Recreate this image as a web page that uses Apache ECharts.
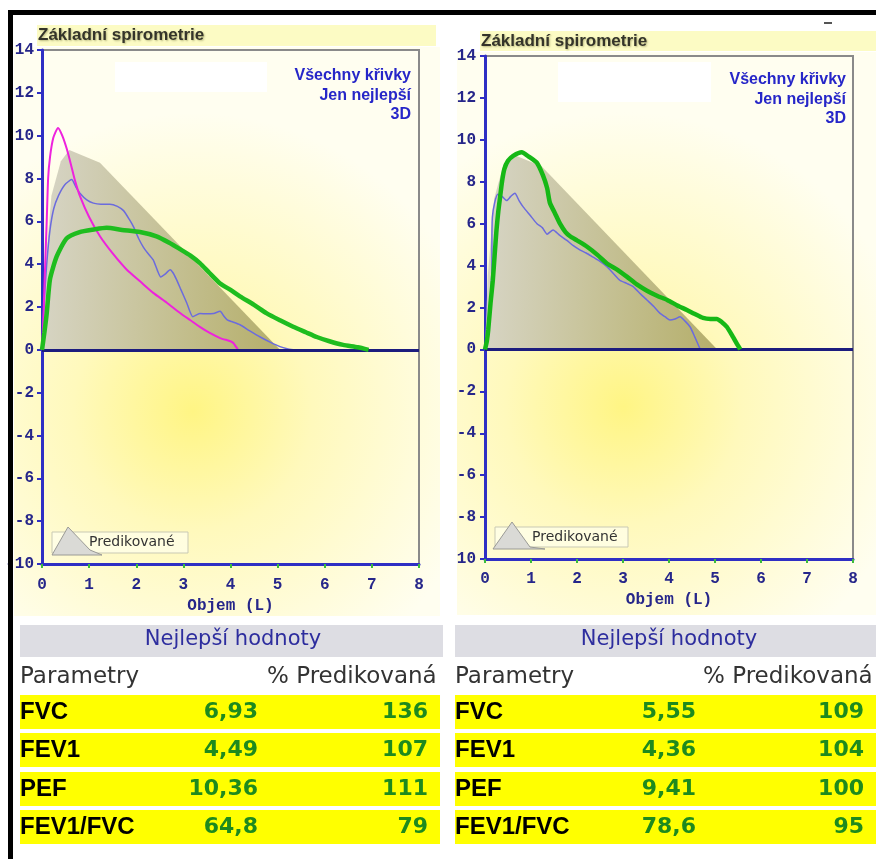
<!DOCTYPE html>
<html>
<head>
<meta charset="utf-8">
<script src="https://cdn.jsdelivr.net/npm/echarts@6/dist/echarts.min.js"></script>
<style>
  html, body { margin: 0; padding: 0; background: #ffffff; }
  #main { width: 876px; height: 859px; }
</style>
</head>
<body>
<div id="main"></div>
<script>
// Flow–volume loops: volume (L) on x, flow (L/s) on y.
const predicted = [[0, 0], [0.06, 3.5], [0.2, 7.2], [0.4, 8.8], [0.58, 9.33], [1.23, 8.74], [5.05, 0]];

const leftBlue = [[0, 0], [0.04, 2], [0.1, 4], [0.17, 5.6], [0.25, 6.6], [0.35, 7.2], [0.48, 7.7], [0.63, 7.95],
  [0.72, 7.6], [0.81, 7.3], [0.95, 7.0], [1.09, 6.85], [1.25, 6.8], [1.44, 6.8], [1.6, 6.7], [1.73, 6.5],
  [1.85, 6.1], [1.94, 5.75], [2.05, 5.2], [2.15, 4.8], [2.25, 4.5], [2.36, 4.2], [2.45, 3.7], [2.52, 3.4],
  [2.62, 3.55], [2.72, 3.74], [2.78, 3.6], [2.85, 3.3], [2.95, 2.8], [3.07, 2.2], [3.2, 1.55], [3.35, 1.7],
  [3.5, 1.68], [3.64, 1.7], [3.78, 1.8], [3.85, 1.6], [3.93, 1.4], [4.05, 1.3], [4.2, 1.17], [4.4, 0.9],
  [4.63, 0.6], [4.85, 0.35], [5.05, 0.15], [5.2, 0.05], [5.33, 0]];

const leftMagenta = [[0, 0], [0.03, 1.5], [0.06, 3.5], [0.1, 6], [0.13, 8], [0.17, 9], [0.24, 9.9], [0.34, 10.36],
  [0.43, 10.0], [0.53, 9.35], [0.62, 8.6], [0.7, 7.9], [0.81, 7.15], [1.0, 6.2], [1.23, 5.3], [1.5, 4.5],
  [1.8, 3.74], [2.08, 3.2], [2.36, 2.66], [2.65, 2.2], [2.93, 1.72], [3.15, 1.38], [3.35, 1.07], [3.55, 0.8],
  [3.78, 0.55], [4.0, 0.4], [4.06, 0.32], [4.16, 0]];

const leftGreen = [[0, 0], [0.05, 0.8], [0.1, 1.7], [0.17, 3.3], [0.31, 4.35], [0.52, 5.2], [0.8, 5.5], [1.1, 5.62],
  [1.37, 5.7], [1.7, 5.6], [2.08, 5.5], [2.43, 5.3], [2.7, 5.0], [2.93, 4.7], [3.15, 4.4], [3.35, 4.05],
  [3.55, 3.6], [3.78, 3.1], [4.0, 2.8], [4.2, 2.5], [4.5, 2.1], [4.77, 1.7], [5.05, 1.38], [5.33, 1.08],
  [5.6, 0.82], [5.83, 0.6], [6.1, 0.4], [6.39, 0.23], [6.7, 0.12], [6.93, 0]];

const rightBlue = [[0, 0], [0.05, 0.8], [0.1, 1.7], [0.13, 2.8], [0.15, 3.8], [0.15, 5], [0.16, 6.3], [0.21, 7.0],
  [0.28, 7.4], [0.37, 7.3], [0.47, 7.1], [0.56, 7.3], [0.65, 7.45], [0.74, 7.1], [0.83, 6.8], [0.98, 6.4],
  [1.13, 6.0], [1.25, 5.8], [1.35, 5.5], [1.48, 5.7], [1.62, 5.45], [1.78, 5.2], [1.92, 4.95], [2.07, 4.74],
  [2.2, 4.6], [2.35, 4.4], [2.5, 4.2], [2.65, 3.95], [2.8, 3.6], [2.93, 3.3], [3.08, 3.15], [3.22, 3.0],
  [3.38, 2.65], [3.52, 2.36], [3.67, 2.05], [3.8, 1.73], [3.92, 1.55], [4.02, 1.4], [4.13, 1.45], [4.24, 1.56],
  [4.35, 1.35], [4.46, 1.07], [4.56, 0.6], [4.64, 0.2], [4.68, 0]];

const rightGreen = [[0, 0], [0.04, 0.4], [0.07, 0.93], [0.12, 2.2], [0.17, 3.3], [0.21, 4.5], [0.25, 5.7], [0.29, 6.6],
  [0.33, 7.3], [0.37, 8.0], [0.42, 8.6], [0.5, 9.0], [0.62, 9.25], [0.8, 9.41], [0.95, 9.2], [1.13, 8.9],
  [1.26, 8.3], [1.35, 7.7], [1.41, 7.0], [1.52, 6.5], [1.63, 6.0], [1.75, 5.6], [1.85, 5.4], [2.0, 5.2],
  [2.22, 4.9], [2.45, 4.5], [2.65, 4.1], [2.88, 3.8], [3.09, 3.46], [3.3, 3.1], [3.52, 2.8], [3.75, 2.55],
  [3.96, 2.36], [4.18, 2.1], [4.39, 1.88], [4.55, 1.7], [4.74, 1.5], [4.9, 1.45], [5.04, 1.45], [5.15, 1.3],
  [5.26, 1.07], [5.39, 0.6], [5.48, 0.25], [5.55, 0]];

// Best values table
const paramNames = ['FVC', 'FEV1', 'PEF', 'FEV1/FVC'];
const leftBest = [6.93, 4.49, 10.36, 64.8];
const leftPct = [136, 107, 111, 79];
const rightBest = [5.55, 4.36, 9.41, 78.6];
const rightPct = [109, 104, 100, 95];

// Texts
const chartTitle = 'Základní spirometrie';
const menuItems = ['Všechny křivky', 'Jen nejlepší', '3D'];
const legendName = 'Predikované';
const xAxisName = 'Objem (L)';
const tableTitle = 'Nejlepší hodnoty';
const headParam = 'Parametry';
const headPct = '% Predikovaná';

const chart = echarts.init(document.getElementById('main'), null, { renderer: 'canvas' });

const axisBlue = '#2f2fc4';
const labelNavy = '#26268a';
const monoFont = '"Liberation Mono", "DejaVu Sans Mono", monospace';

function xAxisFor(gridIndex, labelMargin, nameGap) {
  return {
    gridIndex, type: 'value', min: 0, max: 8, interval: 1,
    axisLine: { show: true, onZero: false, lineStyle: { color: axisBlue, width: 3 } },
    axisTick: { show: true, length: 4, lineStyle: { color: '#3cbc3c', width: 2 } },
    axisLabel: { color: labelNavy, fontFamily: monoFont, fontWeight: 'bold', fontSize: 16, margin: labelMargin },
    splitLine: { show: false },
    name: xAxisName, nameLocation: 'middle', nameGap,
    nameTextStyle: { color: labelNavy, fontFamily: monoFont, fontWeight: 'bold', fontSize: 16 }
  };
}
function yAxisFor(gridIndex, labelMargin) {
  return {
    gridIndex, type: 'value', min: -10, max: 14, interval: 2,
    axisLine: { show: true, onZero: false, lineStyle: { color: axisBlue, width: 3 } },
    axisTick: { show: true, length: 5, lineStyle: { color: axisBlue, width: 2 } },
    axisLabel: { color: labelNavy, fontFamily: monoFont, fontWeight: 'bold', fontSize: 16, margin: labelMargin,
      showMinLabel: true, showMaxLabel: true },
    splitLine: { show: false }
  };
}

function predictedSeries(idx) {
  return {
    type: 'line', xAxisIndex: idx, yAxisIndex: idx, data: predicted, showSymbol: false, z: 1,
    lineStyle: { width: 0 },
    areaStyle: {
      opacity: 0.92,
      color: new echarts.graphic.LinearGradient(0, 0, 1, 0, [
        { offset: 0, color: '#d3d1c3' },
        { offset: 0.45, color: '#c3bf98' },
        { offset: 1, color: '#aea864' }
      ])
    }
  };
}
function curve(idx, data, color, width, z) {
  return {
    type: 'line', xAxisIndex: idx, yAxisIndex: idx, data, showSymbol: false, z,
    smooth: 0.2, lineStyle: { color, width }
  };
}
function zeroLine() {
  return {
    silent: true, symbol: 'none', label: { show: false },
    lineStyle: { color: '#1c1c7e', width: 3, type: 'solid' },
    data: [{ yAxis: 0 }]
  };
}

const leftGreenSeries = curve(0, leftGreen, '#1fbd1f', 4.5, 5);
leftGreenSeries.markLine = zeroLine();
const rightGreenSeries = curve(1, rightGreen, '#16b816', 4.5, 5);
rightGreenSeries.markLine = zeroLine();

// Decorations drawn around the two plots
function bgRect(x, y, w, h, cx, cy) {
  return {
    type: 'rect', z: -1, silent: true,
    shape: { x, y, width: w, height: h },
    style: {
      fill: new echarts.graphic.RadialGradient(cx, cy, 0.7, [
        { offset: 0, color: '#fff584' },
        { offset: 0.4, color: '#fff9bc' },
        { offset: 1, color: '#fffef0' }
      ])
    }
  };
}
function txt(text, x, y, font, fill, align, extra) {
  return Object.assign({
    type: 'text', z: 60, silent: true,
    style: Object.assign({
      text, x, y, font, fill,
      align: align, textAlign: align,
      verticalAlign: 'middle', textVerticalAlign: 'middle'
    }, extra || {})
  });
}
function rect(x, y, w, h, fill, z, stroke) {
  return {
    type: 'rect', z: z, silent: true, shape: { x, y, width: w, height: h },
    style: stroke ? { fill, stroke, lineWidth: 1 } : { fill }
  };
}
function chartDecor(o) {
  const els = [];
  els.push(rect(o.bandX, o.bandY, o.bandW, o.bandH, '#fcfbc4', 1));
  els.push(txt(chartTitle, o.bandX + 1, o.bandY + o.bandH / 2, 'bold 17px "Liberation Sans", Arial, sans-serif',
    '#34342a', 'left', { textShadowColor: 'rgba(60,60,0,0.35)', textShadowBlur: 2, textShadowOffsetX: 1, textShadowOffsetY: 1 }));
  els.push(rect(o.whiteX, o.whiteY, o.whiteW, o.whiteH, '#ffffff', 40));
  menuItems.forEach((m, i) => {
    els.push(txt(m, o.menuX, o.menuY[i], 'bold 16px "Liberation Sans", Arial, sans-serif', '#2626c8', 'right'));
  });
  // legend: box, triangle glyph, caption
  els.push(rect(o.legX, o.legY, o.legW, o.legH, 'rgba(255,255,236,0.7)', 50, '#c9c9b4'));
  els.push({
    type: 'polygon', z: 55, silent: true,
    shape: { points: o.triPts },
    style: { fill: '#dadad6', stroke: '#9a9a96', lineWidth: 1 }
  });
  els.push(txt(legendName, o.legTextX, o.legY + o.legH / 2, '14px "DejaVu Sans", sans-serif', '#333333', 'left'));
  return els;
}
function fmt(v) { return String(v).replace('.', ','); }
function tableDecor(o, best, pct) {
  const els = [];
  els.push(rect(o.x0, 625, o.headW, 32, '#dddde3', 1));
  els.push(txt(tableTitle, o.titleX, 640, '21px "DejaVu Sans", sans-serif', '#2d2d9e', 'center'));
  els.push(txt(headParam, o.x0, 677, '23px "DejaVu Sans", sans-serif', '#333333', 'left'));
  els.push(txt(headPct, o.pctHeadX, 677, '23px "DejaVu Sans", sans-serif', '#333333', 'left'));
  const tops = [695, 733, 772, 810];
  paramNames.forEach((p, i) => {
    els.push(rect(o.x0, tops[i], o.rowW, 34, '#ffff00', 1));
    const cy = tops[i] + 17;
    els.push(txt(p, o.x0, cy, 'bold 24px "Liberation Sans", Arial, sans-serif', '#000000', 'left'));
    els.push(txt(fmt(best[i]), o.valRight, cy, 'bold 22px "DejaVu Sans", Verdana, sans-serif', '#1e8a1e', 'right'));
    els.push(txt(String(pct[i]), o.pctRight, cy, 'bold 22px "DejaVu Sans", Verdana, sans-serif', '#1e8a1e', 'right'));
  });
  return els;
}

const graphicEls = [].concat(
  [bgRect(14, 47, 426, 569, 0.42, 0.64), bgRect(455, 52, 421, 563, 0.4, 0.63)],
  chartDecor({
    bandX: 37, bandY: 25, bandW: 399, bandH: 21,
    whiteX: 115, whiteY: 62, whiteW: 152, whiteH: 30,
    menuX: 411, menuY: [76, 96, 115],
    legX: 52, legY: 532, legW: 136, legH: 21, legTextX: 89,
    triPts: [[52, 555], [68, 527], [90, 550], [102, 555]]
  }),
  chartDecor({
    bandX: 480, bandY: 31, bandW: 396, bandH: 20,
    whiteX: 558, whiteY: 62, whiteW: 153, whiteH: 40,
    menuX: 846, menuY: [80, 100, 119],
    legX: 495, legY: 527, legW: 133, legH: 20, legTextX: 532,
    triPts: [[493, 549], [512, 522], [530, 547], [545, 549]]
  }),
  tableDecor({ x0: 20, headW: 423, rowW: 420, titleX: 233, pctHeadX: 267, valRight: 258, pctRight: 428 }, leftBest, leftPct),
  tableDecor({ x0: 455, headW: 421, rowW: 421, titleX: 669, pctHeadX: 703, valRight: 696, pctRight: 864 }, rightBest, rightPct),
  [
    rect(441, 47, 16, 572, '#ffffff', 150),   // gap between the two panels
    rect(824, 22, 8, 2, '#555555', 150),
    rect(8, 10, 868, 5, '#000000', 200),      // outer frame
    rect(8, 10, 5, 849, '#000000', 200)
  ]
);

const option = {
  backgroundColor: '#ffffff',
  animation: false,
  grid: [
    { left: 42, top: 50, width: 377, height: 514, show: true, borderColor: '#8a8a8a', borderWidth: 2, backgroundColor: 'transparent' },
    { left: 485, top: 56, width: 368, height: 503, show: true, borderColor: '#8a8a8a', borderWidth: 2, backgroundColor: 'transparent' }
  ],
  xAxis: [xAxisFor(0, 13, 32), xAxisFor(1, 12, 30)],
  yAxis: [yAxisFor(0, 8), yAxisFor(1, 9)],
  series: [
    predictedSeries(0),
    curve(0, leftBlue, '#6b6bdd', 1.5, 3),
    curve(0, leftMagenta, '#ee22dd', 2, 4),
    leftGreenSeries,
    predictedSeries(1),
    curve(1, rightBlue, '#6b6bdd', 1.5, 3),
    rightGreenSeries
  ],
  graphic: { elements: graphicEls }
};

chart.setOption(option);
</script>
</body>
</html>
